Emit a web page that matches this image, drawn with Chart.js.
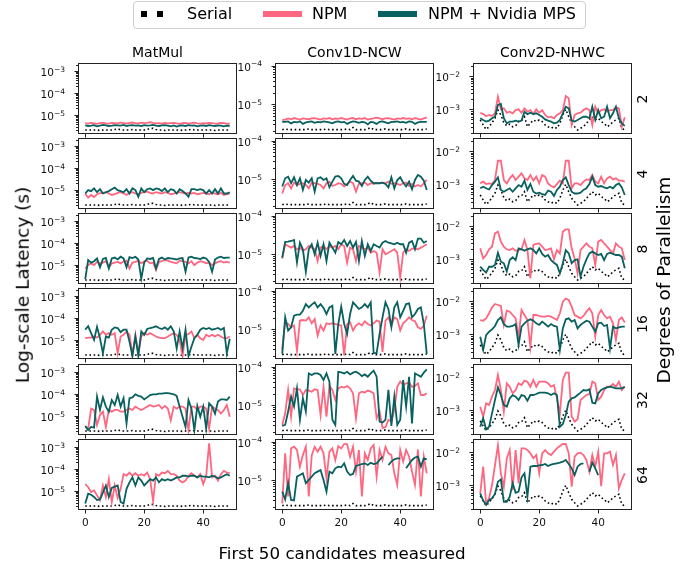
<!DOCTYPE html>
<html>
<head>
<meta charset="utf-8">
<script src="https://cdn.jsdelivr.net/npm/chart.js@4"></script>
<style>
  body { margin: 0; background: #fff; font-family: "DejaVu Sans", sans-serif; }
  #fig { position: relative; width: 694px; height: 569px; overflow: hidden; }
  #fig canvas { position: absolute; }
  .txt { position: absolute; white-space: nowrap; color: #000; line-height: 1; }
  .rot { transform: translate(-50%, -50%) rotate(-90deg); }
  .ctr { transform: translate(-50%, -50%); }
</style>
</head>
<body>
<div id="fig"></div>
<script>
// all latencies below are in microseconds
const US = 1e-6;
const kernels = ['MatMul', 'Conv1D-NCW', 'Conv2D-NHWC'];
const degrees = ['2', '4', '8', '16', '32', '64'];
const xTicks = [0, 20, 40];

// ---- MatMul ----
const serialMatMul = [2.1,2.1,2.1,2.1,2.1,2.0,2.1,2.1,2.1,2.1,
  2.2,2.4,2.1,2.1,2.1,2.1,2.2,2.1,2.1,2.1,
  2.1,2.2,2.5,2.5,2.2,2.1,2.1,2.0,2.1,2.1,
  2.1,2.1,2.1,2.0,2.1,2.1,2.3,2.1,2.1,2.1,
  2.1,2.1,2.1,2.1,2.0,2.1,2.1,2.1,2.1,2.1];
const npmMatMul2 = [4.3,4.1,4.4,4.2,4.0,4.3,4.5,4.2,4.1,4.4,
  4.3,4.2,4.5,4.3,4.1,4.4,4.6,4.3,4.2,4.5,
  4.3,4.4,4.8,4.4,4.2,4.3,4.1,4.4,4.2,4.3,
  4.4,4.2,4.0,4.3,4.4,4.1,4.3,4.5,4.2,4.1,
  4.3,4.2,4.4,4.3,4.1,4.2,4.4,4.3,4.0,4.2];
const mpsMatMul2 = [3.4,3.2,3.3,3.5,3.1,3.3,3.6,3.4,3.2,3.3,
  3.5,3.4,3.3,3.6,3.2,3.4,3.5,3.3,3.4,3.2,
  3.5,3.3,3.4,3.6,3.3,3.2,3.4,3.5,3.3,3.1,
  3.4,3.0,3.3,3.4,3.2,3.5,3.3,3.4,3.1,3.3,
  3.4,3.2,3.5,3.3,3.2,3.4,3.3,3.1,3.3,3.2];
const npmMatMul4 = [7.0,4.5,6.0,4.8,6.5,7.2,7.5,8.0,7.0,6.0,
  6.5,7.5,8.0,7.0,6.0,7.5,8.0,7.0,6.5,7.5,
  8.0,8.5,7.5,7.0,8.0,7.5,7.0,8.0,7.5,6.5,
  7.0,7.5,8.0,7.5,7.0,7.5,7.0,7.5,6.5,7.0,
  7.5,7.0,6.5,7.5,7.0,6.5,7.5,6.0,6.5,7.0];
const mpsMatMul4 = [7,10,9,12,8,11,7,8,9,11,
  13,10,9,8,11,7,12,10,5,12,
  8,11,12,10,12,11,9,12,8,11,
  10,7,11,9,7,5,11,11,10,11,
  10,7,10,7,11,7,12,7,7,8];
const npmMatMul8 = [7,10,12,10,14,12,13,15,8,12,
  13,14,12,15,16,7,13,14,16,12,
  15,16,12,13,6,14,15,17,16,14,
  13,12,16,15,14,12,15,10,13,15,
  14,12,13,10,12,14,15,13,14,13];
const mpsMatMul8 = [2.3,17,13,15,20,8,19,21,7,20,
  22,18,24,20,8,23,21,24,18,2.4,
  13,20,19,21,7,19,22,18,21,20,
  19,18,20,21,5,22,24,21,20,19,
  22,20,14,5,18,22,24,21,22,22];
const npmMatMul16 = [12.2,13,13,14.5,13,17.4,24.8,17.4,20.8,17.4,
  20.8,2.5,14.5,17.4,24.8,17.4,2.1,17.4,2.5,14.5,
  20.8,17.4,20.8,17.4,14.5,13,12.2,12.2,14.5,17.4,
  20.8,17.4,10.2,1.9,17.4,18.5,24.8,12.2,17.4,12.2,
  10.2,17.4,14.5,17.4,14.5,17.4,14.5,12.2,12.2,14.5];
const mpsMatMul16 = [29.7,42.5,20.8,10.2,40,12.2,2.5,14.5,13,29.7,
  38,35.5,23,29.7,29.7,8.5,1.9,14.5,1.9,24.8,
  17.4,32,35.5,38,42.5,35.5,32,38,29.7,42.5,
  24.8,4.2,24.8,4.2,29.7,1.9,5,12.2,17.4,29.7,
  35.5,32,35.5,29.7,32,35.5,29.7,35.5,2.5,11.5];
const npmMatMul32 = [3.5,2.7,22,19,3.9,11,16,3.2,19,16,
  19,19,16,16,19,22,19,27,22,19,
  22,27,32,27,29,32,22,29,22,6.5,
  27,22,27,27,22,2.3,27,27,19,27,
  27,22,2.7,27,22,19,13,19,32,9.3];
const mpsMatMul32 = [3.5,2.3,3.2,3.0,77,19,71,27,16,54,
  32,91,27,65,4.6,65,71,98,83,77,
  58,71,91,98,98,105,105,110,110,105,
  98,83,27,9.3,3.2,54,22,2.3,29,9.3,
  27,2.7,38,27,13,46,58,58,54,77];
const npmMatMul64 = [21,15,9.1,10.7,6.4,3.9,18,5.4,35,3.2,
  18,4.9,12.6,59,50,70,50,65,50,59,
  50,70,35,3.5,59,50,70,65,83,59,
  59,50,30,25,30,50,65,50,42,59,
  21,50,1500,42,50,30,59,83,70,65];
const mpsMatMul64 = [2.7,7.6,6.8,5.4,3.9,4.2,8.5,18,5.4,14,
  16,18,3.2,2.7,12.6,25,42,18,42,30,
  18,25,35,30,42,25,35,30,35,30,
  35,42,42,50,50,46,50,50,42,50,
  46,46,42,50,46,38,42,50,59,50];

// ---- Conv1D-NCW ----
const serialConv1D = [2.2,2.3,2.2,2.2,2.2,2.2,2.2,2.2,2.2,2.3,
  2.2,2.2,2.2,2.2,2.2,2.3,2.2,2.2,2.2,2.2,
  2.2,2.2,2.3,2.2,2.5,2.2,2.2,2.2,2.2,2.3,
  2.5,2.2,2.2,2.2,2.2,2.3,2.2,2.2,2.2,2.2,
  2.2,2.2,2.3,2.2,2.2,2.2,2.2,2.2,2.2,2.3];
const npmConv1D2 = [3.9,4.0,4.3,4.1,4.4,4.2,4.0,4.3,4.2,4.1,
  4.3,4.4,4.2,4.0,4.3,4.2,4.4,4.1,4.3,4.2,
  4.4,4.2,4.0,4.3,4.4,4.1,4.3,4.2,4.4,4.0,
  4.2,4.3,4.5,4.3,4.1,4.3,4.4,4.2,4.0,4.3,
  4.2,4.4,4.2,4.3,4.1,4.4,4.2,4.0,4.3,4.6];
const mpsConv1D2 = [3.5,3.5,3.6,3.2,3.5,3.4,3.6,3.1,3.4,3.5,
  3.6,3.3,3.5,3.4,3.6,3.5,3.4,3.2,3.5,3.6,
  3.4,3.5,3.1,3.4,3.6,3.5,3.3,3.5,3.4,3.0,
  3.5,3.4,3.1,3.5,3.6,3.4,3.2,3.5,3.5,3.6,
  3.4,3.5,3.3,3.6,3.5,3.1,3.4,3.5,3.5,3.5];
const npmConv1D4 = [4.3,7.1,7.9,5.8,8.2,7.1,7.6,7.9,7.1,5.8,
  8.2,7.9,7.6,7.1,5.8,7.9,8.7,6.7,7.1,7.9,
  7.6,6.5,7.6,8.7,7.9,4.8,7.6,7.9,8.2,7.1,
  7.9,7.6,8.2,7.9,8.2,7.9,8.7,7.6,7.9,7.6,
  7.1,7.9,8.2,6.7,7.6,6.5,7.1,6.5,7.9,9.6];
const mpsConv1D4 = [6.5,10.6,11.7,7.9,11.3,7.1,10.6,5.3,9.6,8.2,
  10.6,4.8,10.6,11.3,9.6,10.6,6.2,8.7,11.7,12.2,
  10.6,7.6,7.1,9.6,12.2,9.2,8.7,6.7,9.6,11.7,
  9.2,7.9,7.9,7.9,8.2,7.6,6.2,11.3,5.8,9.6,
  11.3,8.2,6.5,8.7,5.5,9.6,13.0,11.7,9.2,5.3];
const npmConv1D8 = [7.7,18.2,16.4,14.9,16.4,13.5,14.9,12.2,13.5,16.4,
  14.9,13.5,6.7,14.9,16.4,13.5,16.4,14.9,16.4,13.5,
  18.2,16.4,6.1,14.9,13.5,6.7,16.4,14.9,13.5,14.9,
  11,12.2,11,3.4,13.5,10,11,12.2,13.5,11,
  2.5,11,13.5,12.2,14.1,14.1,13.5,14.9,16.4,18.2];
const mpsConv1D8 = [8.2,20.9,21.3,22.1,23.5,6.1,20,13.5,3.5,13.5,
  18.2,10,20,9.1,18.2,6.7,20,14.9,11,20.9,
  18.2,23.5,16.4,22.1,14.9,20.9,6.7,22.1,9.1,18.2,
  12.2,18.2,16.4,14.9,20,22.1,20,19.2,18.2,20,
  18.2,18.2,11,20,22.1,13.5,25.4,25.4,20,22.1];
const npmConv1D16 = [3.0,15.2,13.7,11.3,12.5,2.8,16.8,17.4,16.8,20.4,
  14.3,18.5,6.9,12.5,9.3,14.3,13.7,14.3,13.7,13,
  12.5,2.1,13.7,15.2,9.3,12.5,14.3,12.5,16.1,13.7,
  12.5,14.3,16.8,15.8,2.6,16.8,20.4,12.5,20.4,18.5,
  9.3,14.3,16.8,20.4,17.4,16.1,11.3,10.2,12.5,22.5];
const mpsConv1D16 = [2.3,20.4,9.3,11.3,22.5,24,24,30,45,37,
  43.5,50,37,45,35.7,24.9,37,41,2.3,13.7,
  38.6,13.7,7.6,24.9,50,41,33.6,37,45,37,
  50,2.4,2.4,7.6,20.4,50,33.6,11.3,37,50,
  20.4,30,45,47,20.4,24.9,33.6,37,13.7,2.3];
const npmConv1D32 = [3.1,6.2,25,5.1,27.5,26,26,18.5,25,24,
  22.6,26,25,5.6,30,5.1,31.6,25,13.8,27.5,
  30,29,31.6,27.5,20.4,4.6,20.4,22.6,21.3,24,
  22.6,20.4,4.6,6.9,2.6,2.7,4.2,3.8,7.6,30,
  41,33.6,37,38.6,30,31.6,37,18.5,18.5,20.4];
const mpsConv1D32 = [2.9,3.1,6.9,16.8,9.3,27.5,4.2,15.2,6.9,67,
  61,67,67,61,45,67,41,4.2,3.1,74,
  71,67,74,63,70,74,67,57,63,55,
  67,79,55,3.8,3.6,4.2,25,2.9,16.8,3.1,
  4.2,45,9.3,55,3.4,67,61,55,70,85];
const npmConv1D64 = [2.5,50,3.8,67,74,61,22.6,45,74,3.8,
  45,74,55,74,50,11.3,55,67,33.6,77,
  67,87,87,41,74,16.8,61,3.8,50,33.6,
  67,82,12.4,61,33.6,74,50,45,15.2,7.6,
  61,30.4,61,41,16.8,7.6,63,3.8,41,15.2];
const mpsConv1D64 = [5.1,3.2,8.4,3.1,3.0,12.4,13.7,15.2,8.4,10.2,
  12.4,15.2,16.8,18.5,10.2,5.1,16.8,15.2,20.4,22.6,
  21.7,27.5,16.8,13.7,14.6,23.5,24.9,26.4,27.5,24.9,
  28.6,26.4,27.5,33.6,40.9,null,24.9,30.4,35,37,
  37,null,20.4,26.4,33.6,39,40.9,22.6,37,35];

// ---- Conv2D-NHWC ----
const serialConv2D = [480,340,250,300,400,540,950,680,400,320,
  360,300,320,430,450,600,300,380,480,430,
  480,430,340,300,270,300,270,380,680,1000,
  600,380,300,240,270,300,380,480,600,480,
  540,430,380,300,340,430,480,540,270,240];
const npmConv2D2 = [790,720,630,680,630,760,2400,1000,1070,790,
  850,760,950,1000,790,1070,850,950,720,1000,
  790,950,680,575,600,540,680,760,950,2500,
  2140,340,680,760,790,950,1070,950,340,1200,
  760,950,1000,850,950,950,1150,1070,300,575];
const mpsConv2D2 = [540,480,430,460,540,600,1350,1450,540,380,
  430,430,460,430,460,850,720,790,720,760,
  680,600,500,460,430,380,400,480,760,1200,
  1070,460,430,480,540,600,600,540,1200,480,
  950,540,600,1200,540,760,1200,540,380,320];
const npmConv2D4 = [1070,1200,1020,1070,1020,1350,5100,5100,1350,1070,
  1510,1900,1350,1700,2140,1510,1350,1900,1290,1700,
  1070,1900,1700,1070,890,810,1020,1290,1070,5100,
  5100,760,1070,1070,950,1200,1410,1350,1900,1200,
  1070,1700,1070,1510,1700,1410,1510,1290,1290,1200];
const mpsConv2D4 = [760,850,760,700,950,1200,1620,680,600,680,
  760,600,760,950,850,1290,680,1020,600,530,
  560,510,480,650,600,450,680,850,1350,1620,
  950,600,530,530,560,680,760,1020,1700,950,
  850,890,810,760,850,760,950,1070,810,480];
const npmConv2D8 = [2140,1070,1350,2000,2400,6000,6800,3400,2400,2000,
  1900,2140,1820,1900,2000,3800,1900,270,2700,2900,
  3000,2400,1900,2000,2140,1000,1900,1510,6800,7900,
  7900,2140,1070,380,1900,2400,3000,2400,2140,680,
  3400,3800,3000,2400,1900,1510,3000,2400,2140,950];
const mpsConv2D8 = [600,480,400,600,600,680,1580,850,760,430,
  950,1150,950,2140,2000,1820,2000,2140,1900,1510,
  2140,1450,1200,1350,950,790,680,380,760,1900,
  1510,760,950,1000,300,600,1000,1510,1700,1510,
  1350,1450,950,1450,1580,1450,1350,1350,1200,540];
const npmConv2D16 = [2690,2570,3020,4270,6460,8130,7590,7080,1910,5130,
  4790,3800,3020,850,5370,3800,2690,430,3800,3800,
  3550,3390,3390,3550,3390,3020,2690,4270,9550,11750,
  10700,6760,3800,3390,3020,3550,4790,6030,4270,850,
  3800,5370,3800,3020,3390,2140,680,2690,3240,2240];
const mpsConv2D16 = [850,340,950,1200,1410,1780,2690,3240,2040,1700,
  1700,1780,2040,480,1700,2140,2570,2820,2570,2140,
  1910,2400,2040,1700,2040,1780,1700,340,1510,2820,
  3020,2400,2690,1510,1910,2240,2570,2400,1700,1200,
  2140,2240,1780,1910,380,1700,1510,1620,1700,1700];
const npmConv2D32 = [1290,650,1620,1450,2570,4070,11480,4070,910,6460,
  5130,3240,4070,6460,5750,7760,7240,5130,8130,5130,
  7240,7240,7240,6460,5130,5750,2290,810,8130,13490,
  13490,650,460,540,2040,2450,2880,3090,7240,6460,
  2040,2570,4070,5130,5130,6170,5130,7240,4070,5130];
const mpsConv2D32 = [320,575,270,320,810,2040,4900,2880,1450,1290,
  2290,2880,2570,2040,2880,2690,1950,2880,2880,3090,
  3390,3390,3390,3240,2880,3240,2880,320,390,720,
  1820,2290,2450,2880,3390,4070,3890,4270,1700,1620,
  3240,4070,4570,4900,5130,4900,4570,4570,4570,5130];
const npmConv2D64 = [575,3630,290,410,1020,4070,15850,2290,910,6460,
  11480,720,11480,1150,12880,12880,11480,9120,6460,8130,
  2290,9120,11480,9120,8130,10230,12880,15140,17380,17380,
  9120,910,7240,9120,9550,8130,5750,2570,8130,3630,
  10230,950,9120,9120,10230,4070,8130,810,1450,2290];
const mpsConv2D64 = [575,350,260,360,410,550,1290,1510,320,320,
  460,1150,600,650,1740,2290,460,3630,3800,3800,
  3980,4070,4370,3800,4170,4370,4570,4790,5130,5750,
  4370,3240,2040,3630,4370,4570,null,2570,4790,3240,
  2040,null,null,null,null,null,null,null,null,null];

const serialByKernel = [serialMatMul, serialConv1D, serialConv2D];
const npmByRow = [
  [npmMatMul2, npmConv1D2, npmConv2D2],
  [npmMatMul4, npmConv1D4, npmConv2D4],
  [npmMatMul8, npmConv1D8, npmConv2D8],
  [npmMatMul16, npmConv1D16, npmConv2D16],
  [npmMatMul32, npmConv1D32, npmConv2D32],
  [npmMatMul64, npmConv1D64, npmConv2D64]
];
const mpsByRow = [
  [mpsMatMul2, mpsConv1D2, mpsConv2D2],
  [mpsMatMul4, mpsConv1D4, mpsConv2D4],
  [mpsMatMul8, mpsConv1D8, mpsConv2D8],
  [mpsMatMul16, mpsConv1D16, mpsConv2D16],
  [mpsMatMul32, mpsConv1D32, mpsConv2D32],
  [mpsMatMul64, mpsConv1D64, mpsConv2D64]
];

// log10 y range (seconds) shared down each column
const yLog = [[-5.86, -2.63], [-5.77, -3.93], [-3.74, -1.61]];

// layout
const colLeft = [78, 275, 473];
const rowTop = [63, 138, 213, 288, 364, 439];
const PW = 159, PH = 71;
const PAD_L = 60, PAD_T = 4, PAD_R = 4, PAD_B = 24;
const PINK = '#ff6680';
const TEAL = '#08605f';
const FONT = '"DejaVu Sans", sans-serif';

const fig = document.getElementById('fig');

function addText(str, x, y, size, cls) {
  const d = document.createElement('div');
  d.className = 'txt ' + (cls || '');
  d.style.left = x + 'px';
  d.style.top = y + 'px';
  d.style.fontSize = size + 'px';
  d.textContent = str;
  fig.appendChild(d);
  return d;
}

function pts(arr) {
  return arr.map((v, i) => ({ x: i, y: v == null ? null : v * US }));
}

// frame, ticks and tick labels drawn the matplotlib way
const axesPlugin = {
  id: 'axesLook',
  afterDraw(chart, args, opts) {
    const ctx = chart.ctx;
    const a = chart.chartArea;
    const xs = chart.scales.x, ys = chart.scales.y;
    ctx.save();
    ctx.strokeStyle = '#222';
    ctx.lineWidth = 1;
    ctx.strokeRect(a.left + 0.5, a.top + 0.5, a.width - 1, a.height - 1);

    ctx.beginPath();
    xTicks.forEach(v => {
      const px = Math.round(xs.getPixelForValue(v)) + 0.5;
      ctx.moveTo(px, a.bottom);
      ctx.lineTo(px, a.bottom + 3.5);
    });
    const lo = opts.lo, hi = opts.hi;
    for (let d = Math.floor(lo); d <= Math.ceil(hi); d++) {
      for (let m = 1; m <= 9; m++) {
        const lv = d + Math.log10(m);
        if (lv < lo || lv > hi) continue;
        const py = Math.round(ys.getPixelForValue(Math.pow(10, lv))) + 0.5;
        const len = m === 1 ? 3.5 : 2;
        ctx.moveTo(a.left, py);
        ctx.lineTo(a.left - len, py);
      }
    }
    ctx.stroke();

    ctx.fillStyle = '#111';
    if (opts.xLabels) {
      ctx.font = '10.5px ' + FONT;
      ctx.textAlign = 'center';
      ctx.textBaseline = 'middle';
      xTicks.forEach(v => ctx.fillText(String(v), xs.getPixelForValue(v), a.bottom + 13));
    }
    for (let d = Math.ceil(lo); d <= Math.floor(hi); d++) {
      const py = ys.getPixelForValue(Math.pow(10, d));
      const right = a.left - 13;
      const exp = '\u2212' + Math.abs(d);
      ctx.textAlign = 'right';
      ctx.textBaseline = 'alphabetic';
      ctx.font = '7.5px ' + FONT;
      const ew = ctx.measureText(exp).width;
      ctx.fillText(exp, right, py + 0.5);
      ctx.font = '10.5px ' + FONT;
      ctx.fillText('10', right - ew, py + 4.8);
    }
    ctx.restore();
  }
};

kernels.forEach((k, c) => {
  degrees.forEach((deg, r) => {
    const cv = document.createElement('canvas');
    cv.width = PW + PAD_L + PAD_R;
    cv.height = PH + PAD_T + PAD_B;
    cv.style.left = (colLeft[c] - PAD_L) + 'px';
    cv.style.top = (rowTop[r] - PAD_T) + 'px';
    fig.appendChild(cv);

    new Chart(cv, {
      type: 'line',
      data: {
        datasets: [
          { label: 'NPM + Nvidia MPS', data: pts(mpsByRow[r][c]), borderColor: TEAL, borderWidth: 1.8, order: 0 },
          { label: 'NPM', data: pts(npmByRow[r][c]), borderColor: PINK, borderWidth: 1.8, order: 1 },
          { label: 'Serial', data: pts(serialByKernel[c]), borderColor: '#000', borderWidth: 1.6, borderDash: [1.6, 2.6], order: 2 }
        ]
      },
      options: {
        responsive: false,
        animation: false,
        devicePixelRatio: 1,
        spanGaps: false,
        elements: { point: { radius: 0 }, line: { tension: 0, borderCapStyle: 'butt', fill: false } },
        layout: { padding: { left: PAD_L, top: PAD_T, right: PAD_R, bottom: PAD_B } },
        plugins: {
          legend: { display: false },
          tooltip: { enabled: false },
          axesLook: { lo: yLog[c][0], hi: yLog[c][1], xLabels: r === degrees.length - 1 }
        },
        scales: {
          x: { type: 'linear', display: false, min: -2.45, max: 51.45 },
          y: { type: 'logarithmic', display: false, min: Math.pow(10, yLog[c][0]), max: Math.pow(10, yLog[c][1]) }
        }
      },
      plugins: [axesPlugin]
    });
  });
  addText(k, colLeft[c] + PW / 2, 52, 14, 'ctr');
});

degrees.forEach((deg, r) => addText(deg, 642, rowTop[r] + PH / 2, 14, 'rot'));

addText('Log-scale Latency (s)', 23, 285, 18.5, 'rot');
addText('Degrees of Parallelism', 664, 280, 18.5, 'rot');
addText('First 50 candidates measured', 342, 553, 16.7, 'ctr');

// legend
const leg = document.createElement('div');
leg.style.cssText = 'position:absolute;left:133px;top:1px;width:451px;height:26px;border:1px solid #cfcfcf;border-radius:4px;background:#fff;';
fig.appendChild(leg);
function box(x, w, color) {
  const b = document.createElement('div');
  b.style.cssText = 'position:absolute;top:11px;height:5.5px;left:' + x + 'px;width:' + w + 'px;background:' + color + ';';
  fig.appendChild(b);
}
box(141, 5.5, '#000');
box(157, 5.5, '#000');
box(263, 39, PINK);
box(378, 39, TEAL);
const legendLabels = [['Serial', 187], ['NPM', 312], ['NPM + Nvidia MPS', 428]];
legendLabels.forEach(([t, x]) => {
  const d = addText(t, x, 14, 16, '');
  d.style.transform = 'translateY(-50%)';
});
</script>
</body>
</html>
